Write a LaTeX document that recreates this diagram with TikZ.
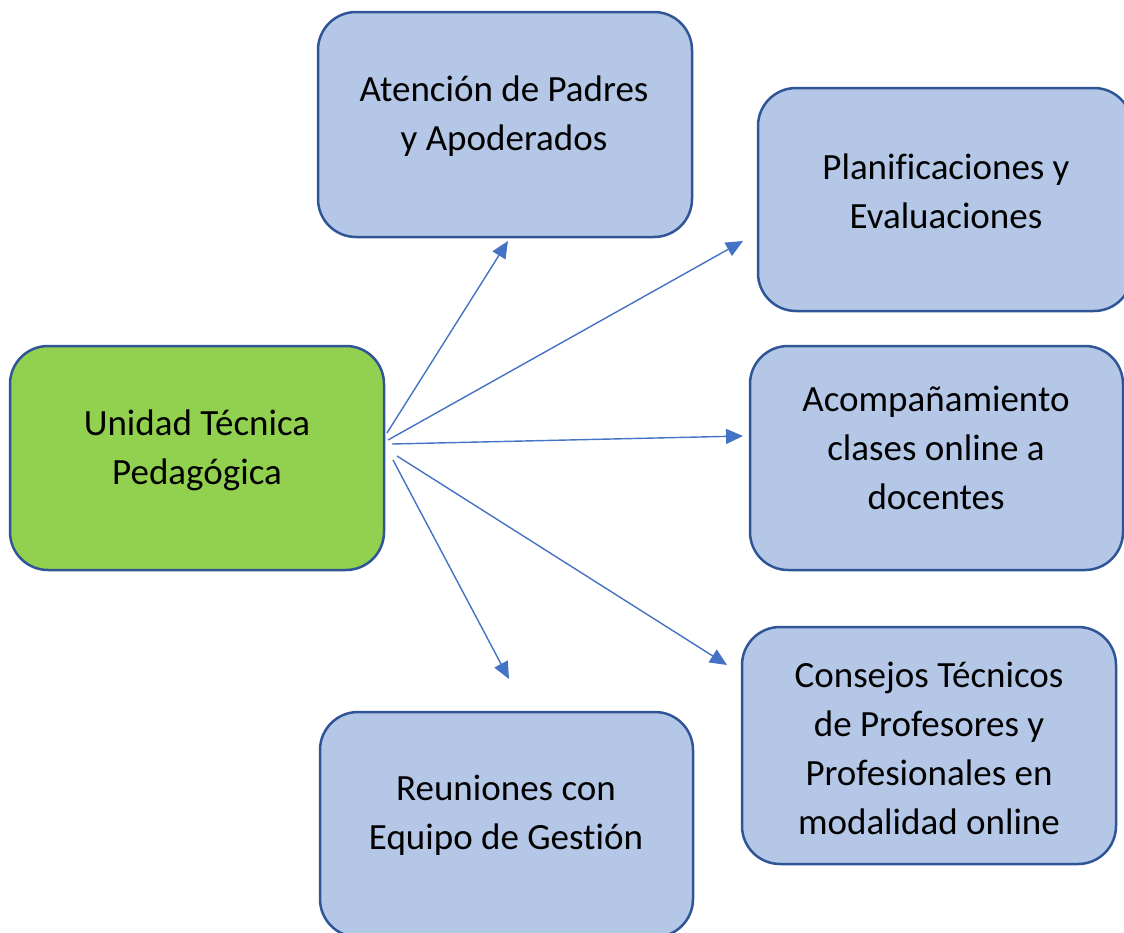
\documentclass[tikz,border=0pt]{standalone}
\usepackage{fontspec}
\setmainfont{Carlito}[Ligatures={NoCommon}]
\usetikzlibrary{arrows.meta}
\definecolor{boxfill}{HTML}{B4C7E7}
\definecolor{boxline}{HTML}{2F5597}
\definecolor{greenfill}{HTML}{92D050}
\definecolor{arrowblue}{HTML}{4472C4}
\begin{document}
\begin{tikzpicture}[x=1pt,y=-1pt,
  box/.style={draw=boxline, line width=2.5pt, rounded corners=38pt, fill=boxfill, inner sep=0pt},
  greenbox/.style={box, fill=greenfill},
  txt/.style={align=center, font=\fontsize{37}{49}\selectfont, inner sep=0pt, text=black},
  conn/.style={draw=arrowblue, line width=1.4pt, -{Triangle[length=17pt,width=15pt,fill=arrowblue]}}]
\useasboundingbox (0,0) rectangle (1124,932);
\begin{scope}
\clip (0,0) rectangle (1124,932);
\node[greenbox, minimum width=374pt, minimum height=224pt] (utp) at (197,458) {};
\node[box, minimum width=374pt, minimum height=225pt] (aten) at (505,124.5) {};
\node[box, minimum width=374pt, minimum height=223pt] (plan) at (945,199.5) {};
\node[box, minimum width=373pt, minimum height=224pt] (acom) at (936.5,458) {};
\node[box, minimum width=374pt, minimum height=237pt] (cons) at (929,745.5) {};
\node[box, minimum width=373pt, minimum height=225pt] (reun) at (506.5,824.5) {};
\end{scope}
\node[txt] (utpt) at (197,450) {Unidad Técnica\\Pedagógica};
\node[txt] (atent) at (504,116.5) {Atención de Padres\\y Apoderados};
\node[txt] (plant) at (946,191) {Planificaciones y\\Evaluaciones};
\node[txt] (acomt) at (936,447.5) {Acompañamiento\\clases online a\\docentes};
\node[txt] (const) at (929,748.5) {Consejos Técnicos\\de Profesores y\\Profesionales en\\modalidad online};
\node[txt] (reunt) at (506,815) {Reuniones con\\Equipo de Gestión};
\coordinate (s1) at (387,433);
\coordinate (s2) at (388,440);
\coordinate (s3) at (392,444);
\coordinate (s4) at (397,456);
\coordinate (s5) at (393,460);
\coordinate (e1) at (508,241);
\coordinate (e2) at (743,241);
\coordinate (e3) at (743,436);
\coordinate (e4) at (727,665);
\coordinate (e5) at (509,679);
\draw[conn] (s1) -- (e1);
\draw[conn] (s2) -- (e2);
\draw[conn] (s3) -- (e3);
\draw[conn] (s4) -- (e4);
\draw[conn] (s5) -- (e5);
\end{tikzpicture}
\end{document}
